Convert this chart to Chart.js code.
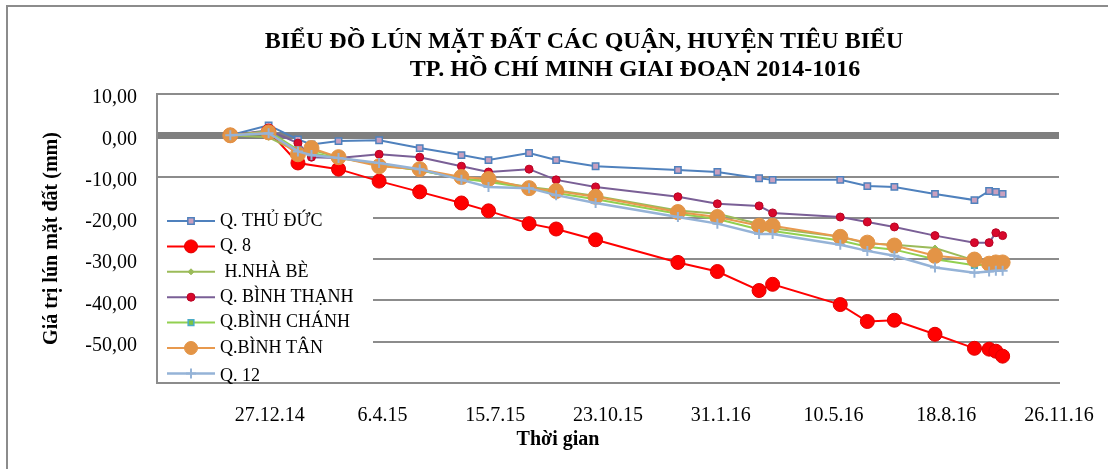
<!DOCTYPE html>
<html>
<head>
<meta charset="utf-8">
<script src="https://cdn.jsdelivr.net/npm/chart.js@4.4.1/dist/chart.umd.min.js"></script>
<style>
    html, body { margin: 0; padding: 0; background: #fff; }
    #wrap { width: 1108px; height: 469px; }
</style>
</head>
<body>
<div id="wrap"><canvas id="mychart" width="1108" height="469"></canvas></div>
<script>
// axis start (18.9.14) and the dated ticks shown under the chart
const axisStart = '2014-09-18';
const axisEnd = '2016-11-26';
const tickDates = ['2014-12-27', '2015-04-06', '2015-07-15', '2015-10-23', '2016-01-31', '2016-05-10', '2016-08-18', '2016-11-26'];
const tickLabels = ['27.12.14', '6.4.15', '15.7.15', '23.10.15', '31.1.16', '10.5.16', '18.8.16', '26.11.16'];

// survey dates
const surveyDates = [
    '2014-11-22', '2014-12-26', '2015-01-21', '2015-02-02', '2015-02-26', '2015-04-03',
    '2015-05-09', '2015-06-15', '2015-07-09', '2015-08-14', '2015-09-07', '2015-10-12',
    '2015-12-24', '2016-01-28', '2016-03-05', '2016-03-17', '2016-05-16', '2016-06-09',
    '2016-07-03', '2016-08-08', '2016-09-12', '2016-09-25', '2016-10-01', '2016-10-07'
];

// settlement values (mm)
const thuDuc = [0, 2.4, -1.0, -2.2, -1.4, -1.2, -3.1, -4.8, -6.0, -4.3, -6.0, -7.5, -8.4, -8.9, -10.4, -10.8, -10.8, -12.3, -12.5, -14.2, -15.7, -13.5, -13.7, -14.2];
const quan8 = [0, 1.0, -6.7, null, -8.2, -11.1, -13.7, -16.4, -18.3, -21.4, -22.7, -25.3, -30.8, -33.0, -37.6, -36.1, -41.0, -45.1, -44.8, -48.2, -51.6, -51.8, -52.3, -53.5];
const nhaBe = [0, -0.5, -4.0, -3.5, -5.3, -7.2, -8.5, -10.5, -11.0, -12.5, -13.3, -14.7, -18.2, -19.0, -21.5, -22.5, -24.6, -26.2, -26.5, -27.3, -30.3, -30.8, -30.3, -30.5];
const binhThanh = [0, 1.2, -1.9, -5.3, -5.5, -4.6, -5.3, -7.5, -8.9, -8.2, -10.8, -12.5, -14.9, -16.6, -17.1, -18.8, -19.8, -21.0, -22.2, -24.3, -26.0, -26.0, -23.6, -24.3];
const binhChanh = [0, 1.0, -3.5, -4.3, -5.5, -7.0, -8.5, -10.5, -11.3, -12.8, -14.0, -15.5, -19.0, -20.3, -22.8, -23.2, -25.5, -27.0, -27.7, -30.0, -31.5, -31.3, -31.0, -31.2];
const binhTan = [0, 0.7, -4.6, -3.1, -5.3, -7.5, -8.2, -10.1, -10.6, -12.8, -13.5, -14.9, -18.6, -19.8, -21.9, -21.9, -24.6, -26.0, -26.7, -29.2, -30.1, -31.1, -30.8, -30.8];
const quan12 = [0, 0.5, -3.9, -4.8, -5.5, -6.7, -8.2, -10.8, -12.5, -12.8, -14.5, -16.4, -19.8, -21.4, -23.9, -23.9, -26.5, -28.0, -29.2, -32.0, -33.3, -33.0, -32.8, -32.8];

const seriesNames = ['Q. THỦ ĐỨC', 'Q. 8', ' H.NHÀ BÈ', 'Q. BÌNH THẠNH', 'Q.BÌNH CHÁNH', 'Q.BÌNH TÂN', 'Q. 12'];

const FONT = '"Liberation Serif", "Times New Roman", serif';

const dayOf = (d) => (Date.parse(d) - Date.parse(axisStart)) / 86400000;
const tickDays = tickDates.map(dayOf);

const toPoints = (values) => values.map((v, i) => ({x: dayOf(surveyDates[i]), y: v}));

const makeSet = (i, values, line, style) => Object.assign({
    label: seriesNames[i],
    data: toPoints(values),
    borderColor: line,
    borderWidth: 2,
    order: 10 - i,
    spanGaps: true,
    tension: 0
}, style);

const datasets = [
    makeSet(0, thuDuc, '#4f81bd', {pointStyle: 'rect', pointRadius: 4.5, pointBackgroundColor: '#c9a0bf', pointBorderColor: '#4f81bd', pointBorderWidth: 1.5}),
    makeSet(1, quan8, '#ff0000', {pointStyle: 'circle', pointRadius: 7, pointBackgroundColor: '#ff0000', pointBorderColor: '#e00000', pointBorderWidth: 1}),
    makeSet(2, nhaBe, '#9bbb59', {pointStyle: 'rectRot', pointRadius: 3, pointBackgroundColor: '#9bbb59', pointBorderColor: '#9bbb59', pointBorderWidth: 1}),
    makeSet(3, binhThanh, '#7a5f96', {pointStyle: 'circle', pointRadius: 4, pointBackgroundColor: '#d8082c', pointBorderColor: '#b80424', pointBorderWidth: 1}),
    makeSet(4, binhChanh, '#92d050', {pointStyle: 'rect', pointRadius: 4, pointBackgroundColor: '#7cc444', pointBorderColor: '#4bacc6', pointBorderWidth: 1.5}),
    makeSet(5, binhTan, '#e8994e', {pointStyle: 'circle', pointRadius: 7.5, pointBackgroundColor: '#e39446', pointBorderColor: '#e39446', pointBorderWidth: 1}),
    makeSet(6, quan12, '#95b3d7', {borderWidth: 2.5, pointStyle: 'cross', pointRadius: 5, pointBackgroundColor: '#95b3d7', pointBorderColor: '#95b3d7', pointBorderWidth: 2})
];

// white page with the outer frame
const frame = {
    id: 'frame',
    beforeDraw(chart) {
        const ctx = chart.ctx;
        ctx.save();
        ctx.fillStyle = '#fff';
        ctx.fillRect(0, 0, chart.width, chart.height);
        ctx.strokeStyle = '#8c8c8c';
        ctx.lineWidth = 2;
        ctx.strokeRect(7, 6, chart.width + 10, chart.height + 10);
        ctx.restore();
    }
};

// legend sits inside the plot, bottom left
const insideLegend = {
    id: 'insideLegend',
    afterDatasetsDraw(chart) {
        const ctx = chart.ctx;
        const area = chart.chartArea;
        ctx.save();
        ctx.fillStyle = '#fff';
        ctx.fillRect(area.left + 1, 204, 372 - area.left, area.bottom - 205);
        chart.data.datasets.forEach((ds, i) => {
            const y = 221 + i * 25.4;
            ctx.strokeStyle = ds.borderColor;
            ctx.lineWidth = ds.borderWidth;
            ctx.beginPath();
            ctx.moveTo(167, y);
            ctx.lineTo(215, y);
            ctx.stroke();
            ctx.fillStyle = ds.pointBackgroundColor;
            ctx.strokeStyle = ds.pointBorderColor;
            ctx.lineWidth = ds.pointBorderWidth;
            Chart.helpers.drawPoint(ctx, {
                pointStyle: ds.pointStyle,
                radius: Math.min(ds.pointRadius, 6.5),
                rotation: 0,
                borderWidth: ds.pointBorderWidth
            }, 191, y);
            ctx.fillStyle = '#000';
            ctx.font = '18px ' + FONT;
            ctx.textBaseline = 'middle';
            ctx.textAlign = 'left';
            ctx.fillText(ds.label, 220, i === 6 ? y + 3 : y);
        });
        ctx.restore();
    }
};

// two-line title and the x axis caption
const captions = {
    id: 'captions',
    afterDraw(chart) {
        const ctx = chart.ctx;
        ctx.save();
        ctx.fillStyle = '#000';
        ctx.textAlign = 'center';
        ctx.textBaseline = 'middle';
        ctx.font = 'bold 24px ' + FONT;
        ctx.fillText('BIỂU ĐỒ LÚN MẶT ĐẤT CÁC QUẬN, HUYỆN TIÊU BIỂU', 584, 42);
        ctx.fillText('TP. HỒ CHÍ MINH GIAI ĐOẠN 2014-1016', 635, 70);
        ctx.font = 'bold 20px ' + FONT;
        ctx.fillText('Thời gian', 558, 440);
        ctx.restore();
    }
};

const ctxEl = document.getElementById('mychart').getContext('2d');
new Chart(ctxEl, {
    type: 'line',
    data: {datasets: datasets},
    options: {
        responsive: false,
        animation: false,
        devicePixelRatio: 1,
        layout: {padding: {top: 94, right: 49, left: 0, bottom: 0}},
        plugins: {
            legend: {display: false},
            title: {display: false},
            tooltip: {enabled: false}
        },
        scales: {
            x: {
                type: 'linear',
                min: 0,
                max: dayOf(axisEnd),
                afterBuildTicks: (scale) => {
                    scale.ticks = tickDays.map((v) => ({value: v}));
                },
                afterFit: (scale) => { scale.height = 86; },
                grid: {display: false},
                border: {display: true, color: '#8c8c8c', width: 2},
                ticks: {
                    autoSkip: false,
                    maxRotation: 0,
                    padding: 13,
                    color: '#000',
                    font: {family: FONT, size: 20},
                    callback: (v) => {
                        const k = tickDays.indexOf(v);
                        return k >= 0 ? tickLabels[k] : '';
                    }
                }
            },
            y: {
                min: -60,
                max: 10,
                afterFit: (scale) => { scale.width = 157; },
                grid: {
                    drawTicks: false,
                    color: (c) => c.tick && c.tick.value === 0 ? '#7f7f7f' : '#8c8c8c',
                    lineWidth: (c) => c.tick && c.tick.value === 0 ? 7 : 2
                },
                border: {display: true, color: '#8c8c8c', width: 2},
                title: {
                    display: true,
                    text: 'Giá trị lún mặt đất (mm)',
                    color: '#000',
                    font: {family: FONT, size: 20, weight: 'bold'},
                    padding: {top: 40, bottom: 0}
                },
                ticks: {
                    stepSize: 10,
                    padding: 20,
                    labelOffset: 4,
                    color: '#000',
                    font: {family: FONT, size: 20},
                    callback: (v) => v === -60 ? '' : v.toFixed(2).replace('.', ',')
                }
            }
        }
    },
    plugins: [frame, insideLegend, captions]
});
</script>
</body>
</html>
